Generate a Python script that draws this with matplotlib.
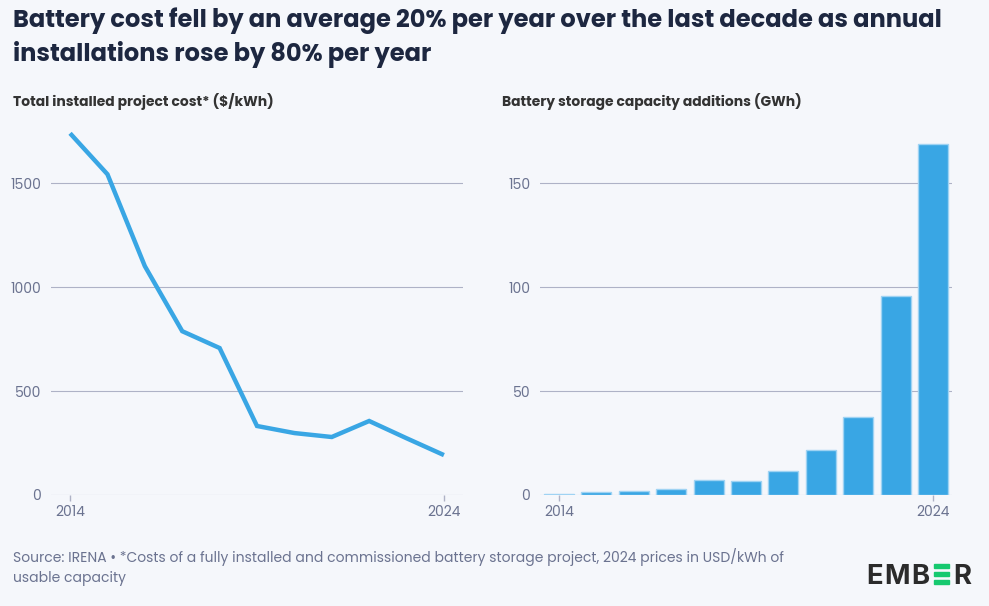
import matplotlib
matplotlib.use("Agg")
import matplotlib.pyplot as plt
from matplotlib.patches import Rectangle

# data
years = list(range(2014, 2025))
cost = [1740, 1543, 1101, 788, 707, 332, 298, 279, 356, 273, 192]
capacity = [0.3, 1.3, 1.9, 2.7, 7.2, 6.7, 11.5, 21.5, 37.4, 95.7, 168.8]
cost_ticks = [0, 500, 1000, 1500]
cap_ticks = [0, 50, 100, 150]
year_ticks = [2014, 2024]

bg = '#f5f7fb'
blue = '#39a6e4'
grid = '#aeb2c6'
tickc = '#6b7390'
dark = '#1d2740'

plt.rcParams['font.family'] = ['Poppins', 'Inter', 'DejaVu Sans']

fig = plt.figure(figsize=(9.89, 6.06), dpi=100, facecolor=bg)
W, H = 989, 606

def ax_at(x0, x1, y0, y1):
    return fig.add_axes([x0 / W, 1 - y1 / H, (x1 - x0) / W, (y1 - y0) / H])

ax1 = ax_at(51, 463, 125, 495)
ax2 = ax_at(540, 952, 125, 495)

for ax in (ax1, ax2):
    ax.set_facecolor(bg)
    for s in ax.spines.values():
        s.set_visible(False)
    ax.set_xlim(2013.49, 2024.51)
    ax.set_xticks(year_ticks)
    ax.tick_params(axis='x', colors=grid, labelcolor=tickc, labelsize=10, length=4, width=1, pad=3)
    ax.tick_params(axis='y', length=0, labelcolor=tickc, labelsize=10, pad=7)
    ax.grid(axis='y', color=grid, linewidth=0.8)
    ax.set_axisbelow(True)

ax1.plot(years, cost, color=blue, linewidth=3.2, solid_joinstyle='miter', solid_capstyle='butt', zorder=3)
ax1.set_ylim(0, 1780)
ax1.set_yticks(cost_ticks)

ax2.bar(years, capacity, width=0.8, color=blue, edgecolor='#9fd3f3', linewidth=1.0, zorder=3)
ax2.set_ylim(0, 178)
ax2.set_yticks(cap_ticks)

fig.text(13 / W, 1 - 21 / H, 'Battery cost fell by an average 20% per year over the last decade as annual',
         fontsize=17.4, fontweight='bold', color=dark, va='center')
fig.text(13 / W, 1 - 54 / H, 'installations rose by 80% per year',
         fontsize=17.4, fontweight='bold', color=dark, va='center')
fig.text(13 / W, 1 - 101 / H, 'Total installed project cost* ($/kWh)',
         fontsize=10, fontweight='bold', color='#333333', va='center')
fig.text(502 / W, 1 - 101 / H, 'Battery storage capacity additions (GWh)',
         fontsize=10, fontweight='bold', color='#333333', va='center')
fig.text(13 / W, 1 - 557 / H, 'Source: IRENA \u2022 *Costs of a fully installed and commissioned battery storage project, 2024 prices in USD/kWh of',
         fontsize=10, color=tickc, va='center')
fig.text(13 / W, 1 - 578 / H, 'usable capacity', fontsize=10, color=tickc, va='center')

# EMBER logo: dark letters with a green three-bar E
logo_dark = '#2b2b2b'
logo_green = '#16c96f'
for letter, px in [('E', 866), ('M', 884), ('B', 911), ('R', 953)]:
    fig.text(px / W, 1 - 584 / H, letter, fontsize=19.8, fontweight='bold', color=logo_dark,
             family=['Inter', 'DejaVu Sans'], va='baseline')
for top in (564, 572, 580):
    fig.patches.append(Rectangle((934 / W, 1 - (top + 4) / H), 15 / W, 4 / H,
                                 transform=fig.transFigure, color=logo_green, figure=fig))

fig.savefig('out.png', dpi=100, facecolor=bg)
